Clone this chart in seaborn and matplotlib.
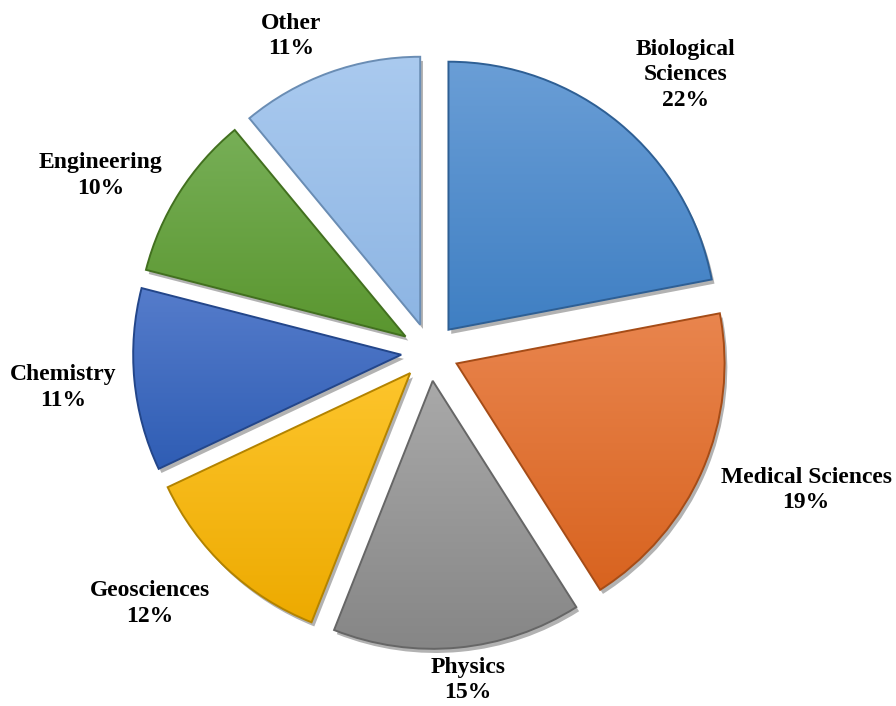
import numpy as np
import seaborn as sns
import matplotlib.pyplot as plt
import matplotlib.patheffects as pe
from matplotlib.patches import PathPatch
from matplotlib.colors import LinearSegmentedColormap

# ── data ──────────────────────────────────────
categories = ["Biological\nSciences", "Medical Sciences", "Physics",
              "Geosciences", "Chemistry", "Engineering", "Other"]
shares = [22, 19, 15, 12, 11, 10, 11]

# ── style ─────────────────────────────────────
top_colors = ["#6A9ED6", "#E9854E", "#A9A9A9", "#FDC52C",
              "#557CCB", "#77AF57", "#AACAEF"]
bottom_colors = ["#3F7FC3", "#D8631F", "#868686", "#EDAA00",
                 "#2F5DB4", "#5A962F", "#8DB5E3"]
edge_colors = ["#2E5F94", "#A54C17", "#666666", "#B38300",
               "#23468A", "#42701F", "#6A8DB4"]

# label centres in pie-radius units, relative to the pie centre
label_xy = [(0.955, 1.034), (1.403, -0.515), (0.142, -1.224),
            (-1.045, -0.937), (-1.369, -0.131), (-1.228, 0.660),
            (-0.519, 1.179)]

sns.set_theme(style="white")
plt.rcParams["font.family"] = ["Liberation Serif", "DejaVu Serif"]

W, H = 896, 706
R_PX = 268          # pie radius in pixels
CX, CY = 430, 352   # pie centre in pixels (from top-left)

fig = plt.figure(figsize=(W / 100, H / 100), dpi=100)
ax = fig.add_axes([0, 0, 1, 1])

wedges, _ = ax.pie(
    shares,
    startangle=90,
    counterclock=False,
    explode=[0.108] * len(shares),
    colors=bottom_colors,
    wedgeprops=dict(linewidth=0),
)

grad = np.linspace(0, 1, 256).reshape(-1, 1)
for w, top, bot, edge in zip(wedges, top_colors, bottom_colors, edge_colors):
    w.set_path_effects([
        pe.SimplePatchShadow(offset=(2, -3), alpha=0.3, shadow_rgbFace="black"),
        pe.Normal(),
    ])
    ext = w.get_path().get_extents()
    cmap = LinearSegmentedColormap.from_list("g", [top, bot])
    im = ax.imshow(grad, extent=[ext.x0, ext.x1, ext.y0, ext.y1],
                   cmap=cmap, aspect="auto", origin="upper", zorder=2,
                   interpolation="bilinear")
    im.set_clip_path(w)
    ax.add_patch(PathPatch(w.get_path(), facecolor="none", edgecolor=edge,
                           linewidth=1.4, zorder=3))

for (x, y), cat, val in zip(label_xy, categories, shares):
    ax.text(x, y, f"{cat}\n{val}%", ha="center", va="center",
            fontsize=17, fontweight="bold", linespacing=1.3, color="black")

ax.set_xlim(-CX / R_PX, (W - CX) / R_PX)
ax.set_ylim(-(H - CY) / R_PX, CY / R_PX)
ax.set_aspect("auto")
ax.axis("off")

plt.savefig("out.png", dpi=100)
